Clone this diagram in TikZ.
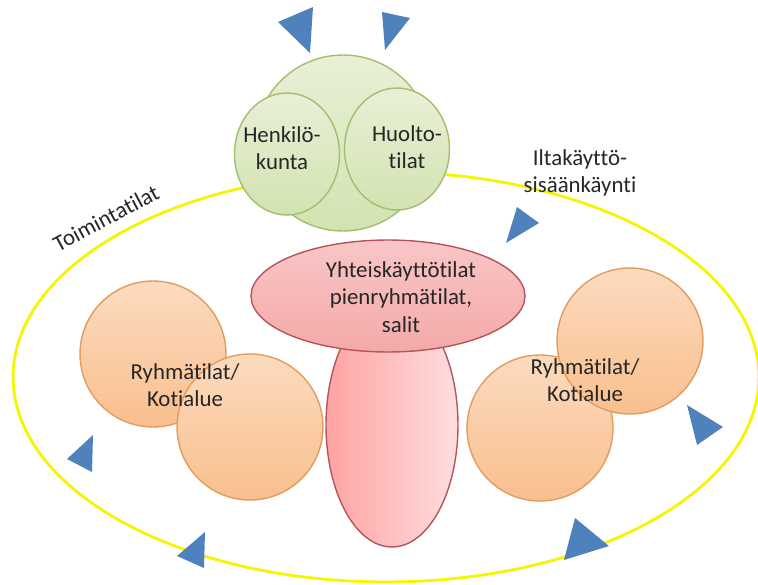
\documentclass[tikz,border=0pt]{standalone}
\usepackage{fontspec}
\setmainfont{Carlito}[Ligatures=NoCommon]
\usepackage{tikz}
\usetikzlibrary{shapes.geometric}
\usepackage{xcolor}
\definecolor{triblue}{HTML}{4F81BD}
\definecolor{ringyellow}{HTML}{F5F500}
\definecolor{greenline}{HTML}{A2BF6E}
\definecolor{greentop}{HTML}{E8F0D6}
\definecolor{greenbot}{HTML}{D2E3B1}
\definecolor{orangeline}{HTML}{E29C5F}
\definecolor{orangetop}{HTML}{FCDBBF}
\definecolor{orangebot}{HTML}{F9BF8E}
\definecolor{redline}{HTML}{B5545A}
\definecolor{pinktop}{HTML}{F9C6C6}
\definecolor{pinkbot}{HTML}{F4A9A9}
\definecolor{stemleft}{HTML}{FFA3A3}
\definecolor{stemright}{HTML}{FFDEDE}
\definecolor{labeltext}{HTML}{262626}

\begin{document}
\begin{tikzpicture}[x=0.02cm,y=-0.02cm,
  lbl/.style={text=labeltext,align=center,font=\fontsize{13}{15.6}\selectfont},
  greenball/.style={ellipse,draw=greenline,thick,top color=greentop,bottom color=greenbot},
  orangeball/.style={circle,draw=orangeline,thick,top color=orangetop,bottom color=orangebot,minimum size=2.92cm,inner sep=0pt},
  tri/.style={fill=triblue}]
  \useasboundingbox (0,0) rectangle (758,585);
  \node (toim) at (386,377) [ellipse,draw=ringyellow,line width=1.6pt,minimum width=14.92cm,minimum height=8.2cm] {};
  \node (staff) at (343,143) [greenball,minimum width=3.52cm,minimum height=3.52cm] {};
  \node (henk) at (287,154) [greenball,minimum width=2.1cm,minimum height=2.44cm] {};
  \node (huol) at (397,149) [greenball,minimum width=2.1cm,minimum height=2.44cm] {};
  \node (stem) at (392,425) [ellipse,draw=redline,thick,left color=stemleft,right color=stemright,minimum width=2.64cm,minimum height=4.88cm] {};
  \node (yht) at (388,296) [ellipse,draw=redline,thick,top color=pinktop,bottom color=pinkbot,minimum width=5.48cm,minimum height=2.24cm] {};
  \node (ryhLT) at (153,354) [orangeball] {};
  \node (ryhLB) at (250,427) [orangeball] {};
  \node (ryhRB) at (540,428) [orangeball] {};
  \node (ryhRT) at (630,341) [orangeball] {};
  \node at (henk.center) [lbl,xshift=-0.1cm,yshift=0.12cm] {Henkilö-\\kunta};
  \node at (huol.center) [lbl,xshift=0.2cm,yshift=0.04cm] {Huolto-\\tilat};
  \node (yhtlbl) at (401,297) [lbl] {Yhteiskäyttötilat\\pienryhmätilat,\\salit};
  \node (ryhLlbl) at (185,385) [lbl] {Ryhmätilat/\\Kotialue};
  \node (ryhRlbl) at (585,380) [lbl] {Ryhmätilat/\\Kotialue};
  \node (toimlbl) at (106,218) [lbl,rotate=28] {Toimintatilat};
  \node (iltalbl) at (580,173) [lbl] {Iltakäyttö-\\sisäänkäynti};
  \fill[tri] (278,22) -- (313,7) -- (310,53) -- cycle;
  \fill[tri] (382,12) -- (410,18) -- (385,50) -- cycle;
  \fill[tri] (517,207) -- (539,223) -- (506,243) -- cycle;
  \fill[tri] (687,405) -- (723,427) -- (697,445) -- cycle;
  \fill[tri] (67,459) -- (93,435) -- (92,472) -- cycle;
  \fill[tri] (177,556) -- (205,532) -- (204,568) -- cycle;
  \fill[tri] (575,518) -- (609,546) -- (564,560) -- cycle;
\end{tikzpicture}
\end{document}
